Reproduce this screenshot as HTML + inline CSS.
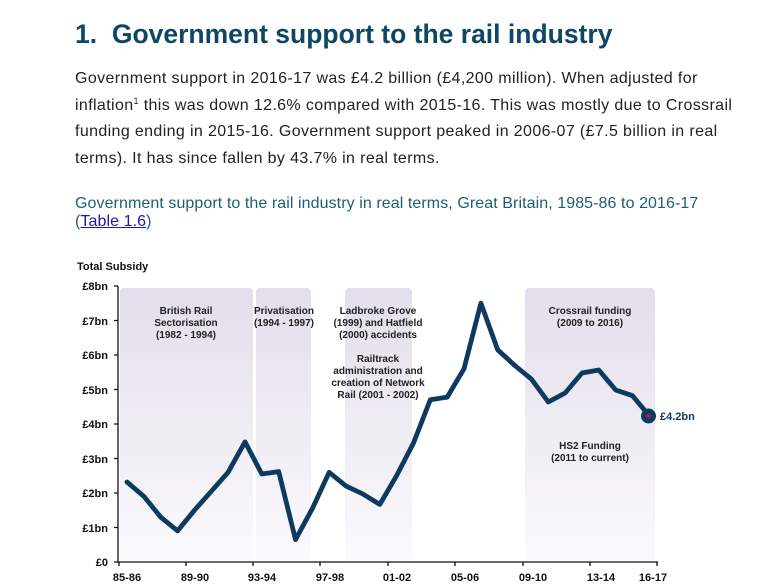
<!DOCTYPE html>
<html><head><meta charset="utf-8">
<style>
body{margin:0;background:#fff;width:768px;height:585px;overflow:hidden;font-family:"Liberation Sans",Arial,sans-serif;}
h1{position:absolute;left:75px;top:19px;margin:0;font-size:26.5px;font-weight:bold;color:#0d4765;white-space:nowrap;}
.p{position:absolute;left:75px;top:66px;font-size:16px;letter-spacing:0.37px;line-height:26.7px;color:#222;white-space:nowrap;}
.p sup{font-size:9px;vertical-align:6px;line-height:0}
.sub{position:absolute;left:75px;top:195px;font-size:16px;letter-spacing:0.08px;line-height:18px;color:#1d5e72;white-space:nowrap;}
.sub a{color:#1a1aa6;text-decoration:underline;}
svg{position:absolute;left:0;top:0}
</style></head><body>
<h1>1.&nbsp; Government support to the rail industry</h1>
<div class="p">Government support in 2016-17 was £4.2 billion (£4,200 million). When adjusted for<br>inflation<sup>1</sup> this was down 12.6% compared with 2015-16. This was mostly due to Crossrail<br>funding ending in 2015-16. Government support peaked in 2006-07 (£7.5 billion in real<br>terms). It has since fallen by 43.7% in real terms.</div>
<div class="sub">Government support to the rail industry in real terms, Great Britain, 1985-86 to 2016-17<br>(<a>Table 1.6</a>)</div>
<svg width="768" height="585" viewBox="0 0 768 585" font-family="Liberation Sans, Arial, sans-serif">
<defs><linearGradient id="g" x1="0" y1="0" x2="0" y2="1"><stop offset="0" stop-color="#e2deeb"/><stop offset="1" stop-color="#fbfafd"/></linearGradient></defs>
<rect x="120" y="288" width="133" height="274" rx="4" fill="url(#g)"/>
<rect x="256" y="288" width="55" height="274" rx="4" fill="url(#g)"/>
<rect x="345" y="288" width="67" height="274" rx="4" fill="url(#g)"/>
<rect x="525" y="288" width="130" height="274" rx="4" fill="url(#g)"/>
<text x="77" y="270" font-size="11" font-weight="bold" fill="#111">Total Subsidy</text>
<g font-size="11" font-weight="bold" fill="#111" text-anchor="end">
<text x="108" y="290">£8bn</text><text x="108" y="325">£7bn</text><text x="108" y="359">£6bn</text><text x="108" y="394">£5bn</text><text x="108" y="428">£4bn</text><text x="108" y="463">£3bn</text><text x="108" y="497">£2bn</text><text x="108" y="532">£1bn</text><text x="108" y="566">£0</text>
</g>
<g stroke="#111" stroke-width="1.3" fill="none">
<path d="M118,286V562H658"/>
<path d="M114,286H118M114,320.5H118M114,355H118M114,389.5H118M114,424H118M114,458.5H118M114,493H118M114,527.5H118M114,562H118"/>
<path d="M119,562V566M186,562V566M253,562V566M320,562V566M388,562V566M455,562V566M523,562V566M590,562V566M657,562V566"/>
</g>
<g font-size="11" font-weight="bold" fill="#111" text-anchor="middle">
<text x="127" y="581">85-86</text><text x="195" y="581">89-90</text><text x="262" y="581">93-94</text><text x="330" y="581">97-98</text><text x="397" y="581">01-02</text><text x="465" y="581">05-06</text><text x="533" y="581">09-10</text><text x="601" y="581">13-14</text><text x="653" y="581">16-17</text>
</g>
<g font-size="10" font-weight="bold" fill="#222" text-anchor="middle">
<text x="186" y="314">British Rail</text><text x="186" y="326">Sectorisation</text><text x="186" y="338">(1982 - 1994)</text>
<text x="284" y="314">Privatisation</text><text x="284" y="326">(1994 - 1997)</text>
<text x="378" y="314">Ladbroke Grove</text><text x="378" y="326">(1999) and Hatfield</text><text x="378" y="338">(2000) accidents</text>
<text x="378" y="362">Railtrack</text><text x="378" y="374">administration and</text><text x="378" y="386">creation of Network</text><text x="378" y="398">Rail (2001 - 2002)</text>
<text x="590" y="314">Crossrail funding</text><text x="590" y="326">(2009 to 2016)</text>
<text x="590" y="449">HS2 Funding</text><text x="590" y="461">(2011 to current)</text>
</g>
<polyline fill="none" stroke="#0f3a60" stroke-width="4.8" stroke-linejoin="round" stroke-linecap="round" points="127,482 143.9,496.4 160.7,517.1 177.6,530.9 194.4,510.3 211.3,491.3 228.1,472.3 245,441.9 261.8,474 278.7,471.6 295.5,539.6 312.4,508.5 329.2,472.3 346.1,486.1 362.9,494 379.8,504.4 396.6,475.7 413.5,443 430.3,399.8 447.2,397.1 464,368.8 480.9,303.2 497.7,349.8 514.6,365.3 531.4,379.1 548.3,402 565.1,393 582,373 598.8,370 615.7,390 632.5,395.7 649.4,416"/>
<circle cx="648.5" cy="416" r="7.5" fill="#0f3a60"/>
<circle cx="648.5" cy="416" r="2.2" fill="#c0143c"/>
<text x="660" y="420" font-size="11" font-weight="bold" fill="#0f3a60">£4.2bn</text>
</svg>
</body></html>
